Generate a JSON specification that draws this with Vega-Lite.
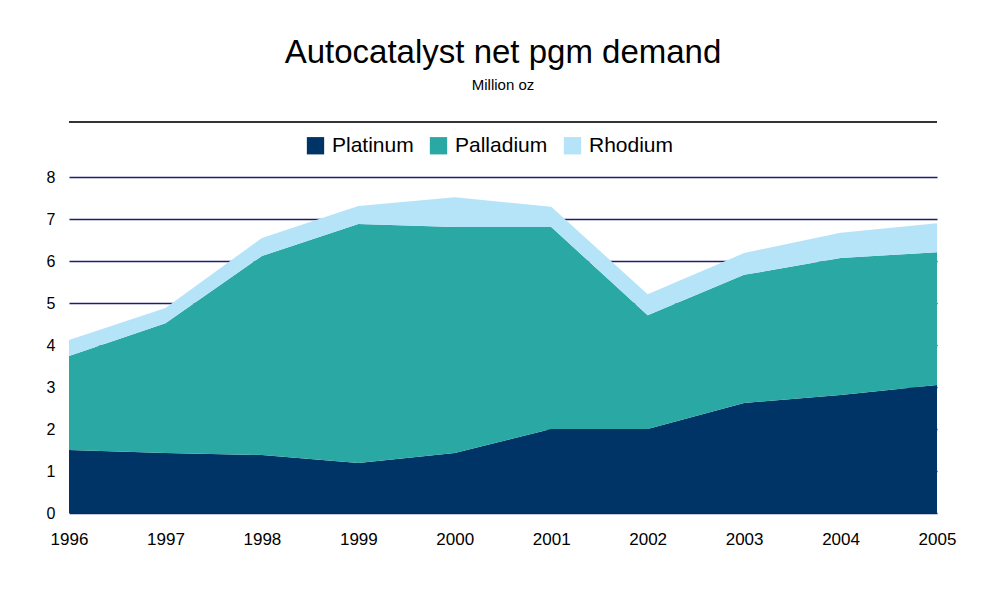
{
  "$schema": "https://vega.github.io/schema/vega-lite/v6.json",
  "autosize": "none",
  "width": 868,
  "height": 336,
  "padding": {"left": 69, "top": 177, "right": 71, "bottom": 78},
  "background": "white",
  "title": {
    "text": "Autocatalyst net pgm demand",
    "subtitle": "Million oz",
    "font": "Liberation Sans",
    "fontSize": 33,
    "fontWeight": "normal",
    "subtitleFont": "Liberation Sans",
    "subtitleFontSize": 15,
    "subtitlePadding": 8,
    "anchor": "middle",
    "offset": 28,
    "color": "black"
  },
  "data": {
    "values": [
      {"year": 1996, "metal": "Platinum", "v": 1.5},
      {"year": 1997, "metal": "Platinum", "v": 1.43},
      {"year": 1998, "metal": "Platinum", "v": 1.38},
      {"year": 1999, "metal": "Platinum", "v": 1.19},
      {"year": 2000, "metal": "Platinum", "v": 1.43},
      {"year": 2001, "metal": "Platinum", "v": 2.0},
      {"year": 2002, "metal": "Platinum", "v": 2.0},
      {"year": 2003, "metal": "Platinum", "v": 2.62},
      {"year": 2004, "metal": "Platinum", "v": 2.81},
      {"year": 2005, "metal": "Platinum", "v": 3.05},
      {"year": 1996, "metal": "Palladium", "v": 2.24},
      {"year": 1997, "metal": "Palladium", "v": 3.09},
      {"year": 1998, "metal": "Palladium", "v": 4.74},
      {"year": 1999, "metal": "Palladium", "v": 5.69},
      {"year": 2000, "metal": "Palladium", "v": 5.38},
      {"year": 2001, "metal": "Palladium", "v": 4.81},
      {"year": 2002, "metal": "Palladium", "v": 2.71},
      {"year": 2003, "metal": "Palladium", "v": 3.05},
      {"year": 2004, "metal": "Palladium", "v": 3.26},
      {"year": 2005, "metal": "Palladium", "v": 3.16},
      {"year": 1996, "metal": "Rhodium", "v": 0.38},
      {"year": 1997, "metal": "Rhodium", "v": 0.36},
      {"year": 1998, "metal": "Rhodium", "v": 0.43},
      {"year": 1999, "metal": "Rhodium", "v": 0.43},
      {"year": 2000, "metal": "Rhodium", "v": 0.71},
      {"year": 2001, "metal": "Rhodium", "v": 0.48},
      {"year": 2002, "metal": "Rhodium", "v": 0.5},
      {"year": 2003, "metal": "Rhodium", "v": 0.52},
      {"year": 2004, "metal": "Rhodium", "v": 0.6},
      {"year": 2005, "metal": "Rhodium", "v": 0.69}
    ]
  },
  "layer": [
    {
      "transform": [
        {"calculate": "indexof(['Platinum','Palladium','Rhodium'], datum.metal)", "as": "ord"}
      ],
      "mark": {"type": "area", "opacity": 1},
      "encoding": {
        "x": {
          "field": "year", "type": "quantitative",
          "scale": {"domain": [1996, 2005], "nice": false},
          "axis": {
            "title": null, "format": "d", "values": [1996,1997,1998,1999,2000,2001,2002,2003,2004,2005],
            "domain": false, "ticks": false, "grid": false, "labelOverlap": false,
            "labelFont": "Liberation Sans", "labelFontSize": 17, "labelColor": "black",
            "labelPadding": 18, "labelFlush": false
          }
        },
        "y": {
          "field": "v", "type": "quantitative", "stack": "zero",
          "scale": {"domain": [0, 8], "nice": false},
          "axis": {
            "title": null, "values": [0,1,2,3,4,5,6,7,8], "labelOverlap": false,
            "domain": false, "ticks": false,
            "grid": true, "gridColor": "#1c1c7a", "gridOpacity": 1, "gridWidth": 1.3,
            "labelFont": "Liberation Sans", "labelFontSize": 16, "labelColor": "black",
            "labelPadding": 14
          }
        },
        "color": {
          "field": "metal", "type": "nominal",
          "scale": {"domain": ["Platinum", "Palladium", "Rhodium"], "range": ["#003366", "#2aa8a4", "#b5e4f9"]},
          "legend": {
            "title": null, "orient": "none", "direction": "horizontal",
            "legendX": 236, "legendY": -42,
            "symbolType": "square", "symbolSize": 300, "symbolStrokeWidth": 0, "symbolOpacity": 1,
            "labelFont": "Liberation Sans", "labelFontSize": 21, "labelColor": "black",
            "columnPadding": 14, "labelOffset": 6
          }
        },
        "order": {"field": "ord", "type": "quantitative"}
      }
    },
    {
      "mark": {"type": "rule", "color": "#333333", "strokeWidth": 1},
      "encoding": {
        "y": {"datum": 9.31},
        "x": {"datum": 1996},
        "x2": {"datum": 2005}
      }
    }
  ],
  "config": {"view": {"stroke": null}}
}
